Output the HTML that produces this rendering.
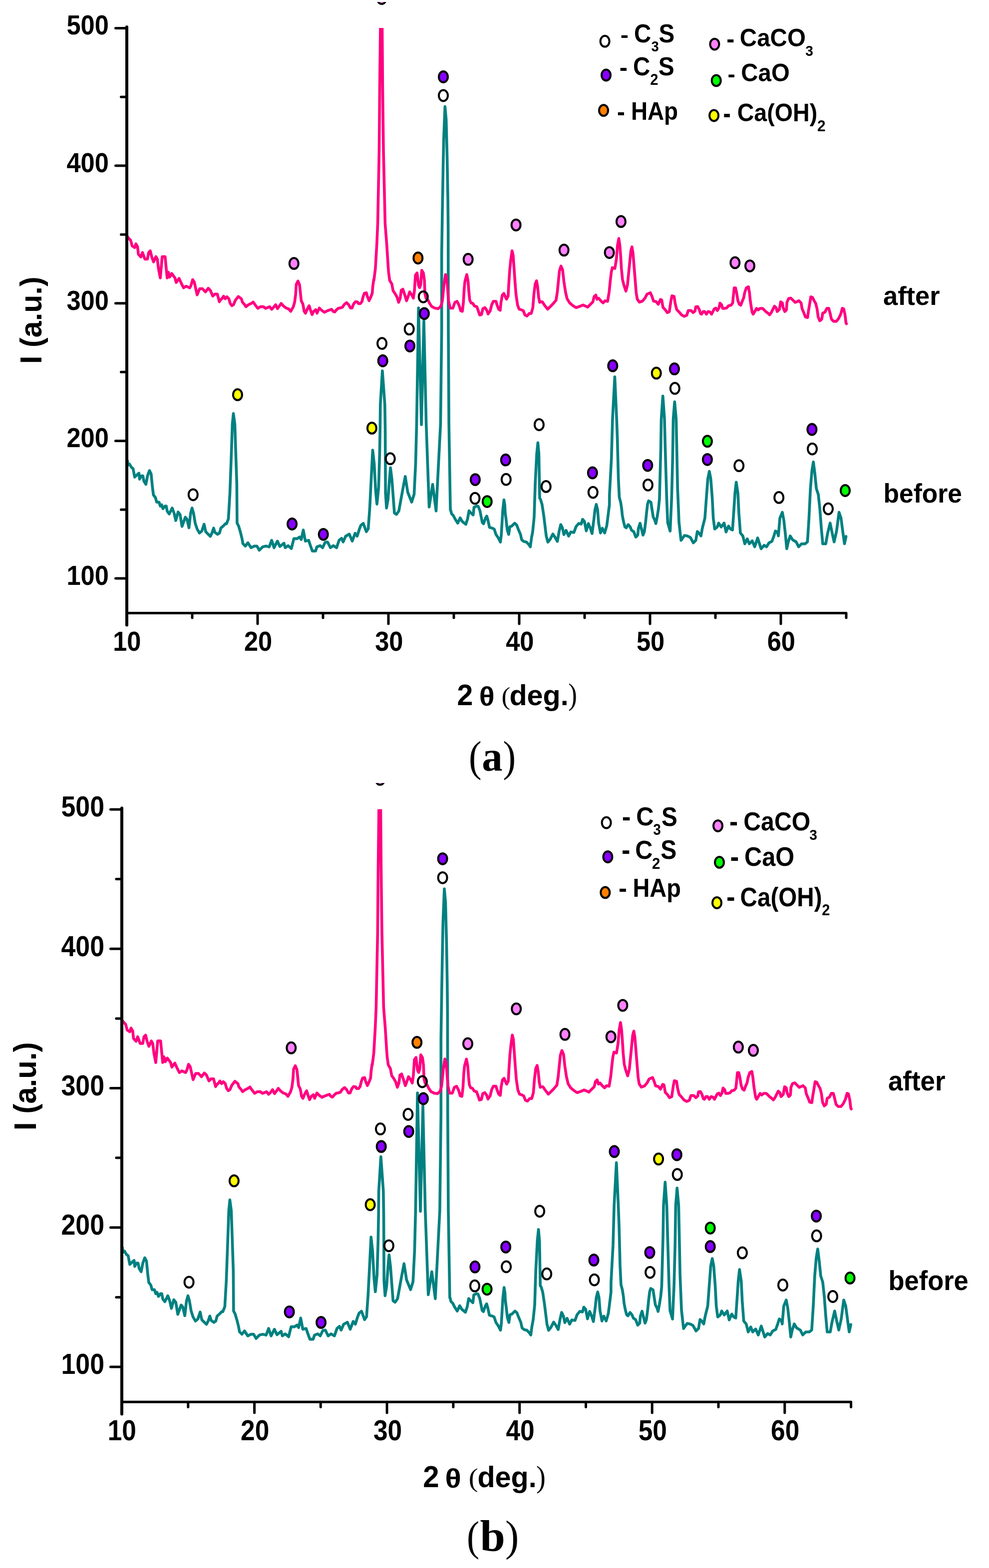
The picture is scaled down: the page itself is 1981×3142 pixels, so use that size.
<!DOCTYPE html>
<html><head><meta charset="utf-8"><title>XRD patterns</title>
<style>html,body{margin:0;padding:0;background:#fff;overflow:hidden}svg{display:block}</style></head>
<body>
<svg width="1981" height="3142" viewBox="0 0 1981 3142">
<defs><clipPath id="ca"><rect x="240" y="56" width="1480" height="1180"/></clipPath>
<clipPath id="cb"><rect x="230" y="1621.5" width="1500" height="1200"/></clipPath>
<clipPath id="cbm"><rect x="0" y="1569" width="1981" height="1600"/></clipPath>
<clipPath id="cam"><rect x="0" y="3.9" width="1981" height="1500"/></clipPath></defs>
<rect width="100%" height="100%" fill="#fff"/>
<g fill="none" stroke-width="5.6" stroke-linejoin="round" stroke-linecap="round">
<path clip-path="url(#ca)" d="M254.9,925.1 L255.3,923.2 L255.9,932.4 L259.2,929.8 L263.2,936.4 L266.5,939.0 L269.8,956.1 L273.7,952.2 L278.3,948.2 L279.6,960.1 L282.9,953.5 L286.2,953.5 L288.2,964.0 L292.2,970.6 L295.5,953.5 L299.4,942.9 L302.7,949.5 L305.3,975.9 L307.3,991.7 L311.3,997.0 L313.9,1006.2 L318.5,1006.2 L321.1,1014.1 L323.8,1011.5 L326.4,1019.4 L330.4,1014.1 L333.0,1014.1 L335.0,1024.6 L338.9,1029.9 L344.9,1018.0 L348.8,1028.6 L352.1,1043.1 L356.7,1025.9 L360.7,1031.2 L364.6,1054.9 L371.2,1036.5 L374.5,1040.4 L378.5,1057.6 L381.8,1028.6 L384.7,1018.0 L387.7,1028.6 L391.0,1048.3 L394.9,1060.2 L399.5,1068.1 L404.2,1064.2 L408.8,1050.3 L412.1,1065.5 L416.0,1069.4 L421.3,1074.7 L424.6,1068.1 L427.9,1058.2 L430.5,1066.8 L435.8,1070.7 L439.7,1068.1 L442.4,1058.2 L447.6,1053.6 L451.6,1049.3 L453.6,1049.6 L457.5,1039.7 L460.5,988.3 L463.4,909.3 L465.4,850.0 L467.5,828.5 L470.4,850.0 L472.3,909.3 L474.3,968.6 L474.9,1048.1 L478.2,1054.7 L481.5,1066.2 L484.8,1079.4 L486.5,1089.3 L491.4,1094.2 L496.4,1087.6 L502.9,1097.5 L509.5,1094.2 L514.5,1094.2 L519.4,1102.5 L526.0,1095.9 L532.6,1094.2 L539.2,1095.9 L544.1,1082.7 L549.0,1097.5 L555.6,1084.3 L560.6,1095.1 L568.8,1088.5 L571.3,1097.5 L577.0,1093.4 L583.6,1099.2 L588.6,1079.4 L595.2,1079.4 L600.1,1076.1 L603.4,1081.1 L607.5,1062.1 L611.6,1084.3 L618.2,1082.7 L621.5,1092.6 L625.6,1104.1 L632.2,1104.1 L634.7,1095.9 L641.3,1093.4 L646.2,1097.5 L651.2,1086.8 L656.1,1086.0 L661.9,1097.5 L667.6,1093.4 L674.2,1097.5 L679.2,1082.7 L684.1,1078.6 L687.4,1086.0 L692.3,1074.5 L699.7,1070.3 L705.5,1084.3 L711.3,1068.7 L715.4,1074.5 L719.5,1061.3 L722.8,1052.6 L727.7,1048.6 L733.7,1065.4 L737.6,1059.5 L740.6,1018.0 L743.6,958.7 L746.5,902.0 L749.5,929.1 L752.5,984.4 L755.0,1010.1 L758.4,976.5 L760.4,909.3 L761.3,860.0 L761.8,810.6 L765.9,743.0 L770.8,810.6 L771.6,860.0 L772.2,988.3 L774.2,1018.0 L777.2,1000.2 L780.1,960.7 L782.1,937.0 L785.0,960.7 L790.0,1027.9 L794.0,1030.8 L798.9,1023.9 L806.8,980.4 L811.7,954.7 L816.7,986.4 L824.6,1006.1 L829.5,990.3 L832.5,929.1 L834.5,850.0 L838.3,617.0 L844.1,851.0 L849.0,643.0 L853.7,850.0 L859.6,1016.0 L866.6,970.6 L873.5,1023.9 L882.4,850.0 L884.7,660.0 L884.7,508.9 L886.1,419.2 L887.7,329.5 L888.7,279.7 L891.3,213.5 L893.7,239.8 L895.7,319.5 L897.1,399.3 L897.7,459.0 L898.0,660.0 L899.2,850.0 L902.1,1022.0 L902.7,1022.3 L904.5,1029.4 L908.0,1032.9 L911.6,1040.1 L916.9,1048.4 L921.7,1037.7 L925.8,1044.8 L933.0,1050.7 L936.5,1040.1 L939.5,1023.5 L942.4,1027.0 L947.8,1031.8 L949.5,1016.3 L954.9,1014.0 L957.8,1014.6 L961.4,1023.5 L966.1,1047.2 L968.5,1049.5 L972.7,1037.7 L975.0,1034.1 L977.4,1042.4 L980.4,1056.7 L986.3,1058.4 L989.9,1060.2 L993.4,1070.9 L998.2,1078.0 L1002.3,1086.3 L1004.1,1072.1 L1007.1,1022.3 L1009.4,1001.5 L1011.2,1012.8 L1011.8,1025.8 L1013.6,1040.1 L1016.0,1061.4 L1018.9,1070.9 L1021.3,1055.5 L1024.8,1054.3 L1030.8,1048.4 L1034.9,1051.9 L1038.5,1061.4 L1042.6,1070.9 L1045.0,1081.6 L1049.2,1085.1 L1054.5,1086.3 L1059.2,1091.1 L1062.2,1095.8 L1064.6,1078.0 L1066.9,1066.1 L1069.9,1036.5 L1072.1,968.6 L1075.1,909.3 L1077.4,887.0 L1079.4,909.3 L1081.0,998.2 L1082.6,1000.5 L1085.8,1011.1 L1089.0,1032.2 L1091.6,1053.2 L1094.2,1074.3 L1097.4,1086.4 L1102.1,1080.6 L1107.4,1070.1 L1111.6,1076.4 L1116.4,1084.9 L1120.1,1063.8 L1123.2,1051.1 L1126.4,1057.5 L1129.5,1071.2 L1133.8,1062.7 L1139.0,1074.3 L1143.2,1065.9 L1149.6,1066.9 L1153.8,1055.3 L1159.1,1049.0 L1164.3,1050.1 L1167.0,1040.6 L1170.6,1044.8 L1174.3,1063.8 L1178.5,1049.0 L1182.2,1057.5 L1185.9,1069.1 L1189.6,1040.6 L1191.7,1021.6 L1194.4,1010.6 L1197.0,1021.6 L1199.1,1048.0 L1202.8,1068.0 L1206.5,1058.5 L1211.2,1068.0 L1215.4,1053.2 L1218.1,1032.2 L1220.7,1011.1 L1220.8,991.9 L1224.7,918.8 L1226.9,840.0 L1231.4,755.0 L1235.2,840.0 L1236.6,879.3 L1238.6,958.3 L1240.5,996.5 L1243.2,1006.4 L1245.2,1019.5 L1246.5,1032.7 L1249.1,1045.9 L1251.7,1055.8 L1254.4,1057.7 L1258.3,1051.1 L1262.3,1055.8 L1264.9,1062.3 L1269.5,1065.6 L1273.5,1076.2 L1277.4,1072.2 L1278.7,1059.1 L1282.0,1048.5 L1284.7,1059.1 L1288.0,1072.2 L1290.6,1065.6 L1293.2,1045.9 L1295.2,1026.1 L1297.2,1009.6 L1299.2,1003.7 L1303.8,1006.4 L1305.8,1019.5 L1308.4,1036.0 L1311.7,1042.6 L1313.7,1049.2 L1316.3,1036.0 L1318.9,1019.5 L1320.9,999.8 L1323.6,899.1 L1324.5,840.0 L1327.7,793.5 L1331.0,840.0 L1332.5,899.1 L1335.4,997.9 L1337.4,1047.3 L1342.3,1064.1 L1345.3,997.9 L1347.3,918.8 L1348.5,840.0 L1351.3,805.0 L1354.4,840.0 L1357.2,978.1 L1360.1,1047.3 L1364.1,1082.8 L1371.0,1073.0 L1376.9,1074.0 L1382.8,1076.9 L1388.8,1087.8 L1393.7,1082.8 L1396.7,1065.1 L1400.0,1068.0 L1404.0,1073.9 L1406.9,1058.1 L1411.9,1038.3 L1414.8,998.8 L1417.8,959.3 L1420.8,944.5 L1423.7,959.3 L1426.7,998.8 L1428.7,1038.3 L1431.6,1060.1 L1436.6,1056.1 L1439.5,1048.2 L1444.5,1056.1 L1450.4,1048.2 L1454.3,1066.0 L1459.3,1054.2 L1463.2,1060.1 L1467.2,1062.1 L1470.2,1018.6 L1472.1,988.9 L1474.7,966.2 L1478.1,988.9 L1480.0,1028.5 L1483.0,1068.0 L1487.9,1073.9 L1491.9,1089.7 L1496.8,1079.8 L1500.8,1089.7 L1506.7,1083.8 L1511.7,1095.7 L1517.6,1077.9 L1524.5,1099.6 L1530.4,1092.7 L1535.4,1095.7 L1540.3,1087.7 L1546.2,1084.8 L1550.2,1073.9 L1553.2,1064.0 L1557.1,1066.0 L1559.1,1073.9 L1562.1,1038.3 L1567.0,1026.5 L1570.0,1042.3 L1572.9,1068.0 L1575.9,1099.6 L1578.9,1085.8 L1582.8,1073.9 L1587.7,1081.8 L1594.7,1085.8 L1599.6,1095.7 L1605.5,1089.7 L1612.5,1089.7 L1617.4,1085.8 L1620.4,1038.3 L1623.3,979.1 L1626.3,943.5 L1629.2,925.7 L1632.2,949.4 L1635.2,979.1 L1639.1,990.9 L1642.1,1018.6 L1645.1,1058.1 L1648.0,1089.7 L1654.0,1089.7 L1657.9,1068.0 L1662.8,1048.2 L1666.8,1068.0 L1670.8,1085.8 L1675.7,1064.0 L1680.6,1026.5 L1684.6,1038.3 L1688.5,1068.0 L1691.5,1089.7 L1694.5,1075.9 L1694.6,1074.9" stroke="#008080"/>
<path clip-path="url(#ca)" d="M254.6,473.1 L257.4,477.2 L261.5,481.3 L264.8,492.8 L269.8,496.1 L272.2,488.7 L275.5,494.5 L277.2,509.3 L282.1,515.0 L285.4,506.0 L290.3,519.2 L295.3,519.2 L297.8,506.0 L301.0,502.7 L304.3,515.9 L307.6,524.9 L312.3,514.2 L315.1,519.2 L317.5,538.9 L321.1,557.0 L324.9,514.2 L330.7,514.2 L333.2,540.6 L334.8,557.0 L337.3,545.5 L339.8,555.4 L343.9,548.0 L350.5,557.0 L352.9,566.1 L358.7,557.9 L363.6,568.6 L367.8,576.8 L372.7,573.5 L380.1,576.8 L382.6,571.9 L385.9,560.3 L389.2,565.3 L394.9,590.8 L399.9,578.5 L405.6,578.5 L411.4,585.0 L417.2,577.6 L421.3,581.8 L426.2,593.3 L430.3,589.2 L435.3,589.2 L439.4,604.8 L440.0,602.7 L445.3,597.4 L447.9,593.5 L451.2,598.7 L454.5,594.8 L458.4,598.7 L461.1,608.0 L464.4,612.6 L467.7,610.6 L471.6,601.4 L477.5,594.1 L483.5,598.7 L485.5,605.3 L490.1,610.6 L492.7,614.6 L498.0,610.6 L503.2,608.0 L507.2,605.3 L511.8,611.9 L516.4,617.9 L521.7,614.6 L527.6,614.6 L532.2,617.9 L540.1,614.6 L544.1,619.8 L548.0,615.9 L552.0,610.6 L555.9,618.5 L563.2,608.0 L567.8,613.2 L573.1,617.2 L578.3,619.2 L582.3,623.8 L587.6,614.6 L590.2,605.3 L592.2,589.5 L593.5,569.8 L596.8,563.2 L600.1,571.1 L602.0,589.5 L603.4,602.7 L606.7,609.3 L609.3,623.8 L611.9,627.7 L615.2,619.8 L619.2,612.6 L621.8,621.1 L625.1,630.4 L628.4,623.8 L632.4,620.5 L635.0,627.7 L639.6,617.2 L644.8,622.3 L649.8,625.7 L654.7,623.2 L659.6,621.3 L664.1,619.8 L667.5,624.2 L670.5,625.2 L673.5,621.3 L677.4,617.8 L682.4,616.8 L686.3,615.3 L689.3,610.4 L694.2,606.4 L698.2,610.4 L702.1,617.3 L705.1,617.3 L708.1,609.4 L712.0,604.5 L716.0,605.0 L717.9,608.4 L721.9,608.4 L724.9,604.5 L727.3,594.6 L729.8,587.7 L733.8,586.7 L735.7,593.6 L739.2,602.5 L742.6,595.6 L745.6,587.7 L746.6,574.8 L748.6,560.0 L748.9,562.0 L751.9,538.3 L754.8,488.9 L756.6,448.0 L759.5,300.0 L760.5,181.0 L762.0,56.0 L762.5,30.0 L765.2,30.0 L765.5,56.0 L766.5,181.0 L768.0,300.0 L771.4,448.0 L774.6,488.9 L777.5,534.4 L778.4,545.8 L780.5,561.6 L784.8,569.0 L787.4,582.7 L791.1,588.0 L795.3,595.4 L798.5,605.9 L801.6,597.5 L803.7,581.6 L806.9,579.5 L810.1,589.0 L814.3,602.7 L817.4,594.3 L820.6,584.8 L824.8,591.1 L828.0,597.5 L830.1,582.7 L832.2,551.1 L835.4,546.9 L838.5,572.2 L840.6,576.4 L842.7,570.1 L844.8,541.6 L848.0,546.9 L850.1,561.6 L851.2,589.0 L853.3,597.5 L857.5,601.7 L860.6,608.0 L864.9,614.3 L871.2,617.5 L877.5,618.5 L882.8,614.3 L885.9,603.8 L889.1,572.2 L892.3,550.0 L894.9,556.4 L896.5,577.4 L898.6,603.8 L901.8,617.5 L907.0,617.5 L911.2,605.9 L915.5,603.8 L919.7,612.2 L922.8,622.8 L926.0,621.7 L926.1,623.9 L928.2,605.9 L929.7,579.6 L931.3,563.8 L935.0,550.1 L937.6,563.8 L939.2,584.9 L940.8,600.7 L943.4,607.0 L947.1,608.0 L950.3,613.3 L955.0,614.4 L957.7,621.8 L960.8,631.2 L964.5,630.2 L967.2,618.6 L971.4,616.5 L975.1,621.8 L977.7,629.1 L981.9,622.8 L985.1,610.2 L988.2,603.8 L993.5,603.8 L995.6,611.2 L998.8,619.6 L1001.9,621.8 L1003.5,605.9 L1006.2,591.2 L1009.3,588.0 L1012.5,595.4 L1014.6,599.6 L1017.8,593.3 L1018.8,574.3 L1020.9,542.7 L1023.0,521.6 L1025.7,502.5 L1027.8,511.1 L1029.3,532.2 L1031.5,563.8 L1033.6,590.1 L1036.7,611.2 L1039.9,619.6 L1044.1,620.7 L1048.3,622.8 L1051.5,631.2 L1055.7,633.3 L1060.0,628.1 L1064.1,628.1 L1067.3,616.5 L1069.4,590.1 L1072.0,569.0 L1074.7,562.6 L1076.8,574.3 L1078.9,595.4 L1081.0,605.9 L1082.6,604.9 L1086.3,604.9 L1090.5,611.2 L1096.9,619.6 L1102.1,614.4 L1107.4,609.1 L1113.7,601.7 L1116.4,584.9 L1118.5,563.8 L1120.6,542.7 L1123.7,533.1 L1126.9,540.6 L1129.5,563.8 L1132.7,584.9 L1135.9,598.6 L1141.1,607.0 L1147.5,612.3 L1153.8,616.5 L1160.1,614.4 L1167.5,611.2 L1172.8,613.3 L1177.0,615.4 L1181.2,611.2 L1187.5,604.9 L1190.1,594.3 L1193.3,591.2 L1195.9,599.6 L1199.1,597.5 L1204.4,603.8 L1208.1,607.0 L1211.8,602.8 L1217.0,603.8 L1220.2,584.9 L1222.3,563.8 L1224.4,545.9 L1226.5,536.4 L1231.6,538.0 L1234.7,519.0 L1236.9,491.6 L1239.5,477.8 L1241.6,491.6 L1243.2,512.7 L1244.8,539.0 L1246.9,560.1 L1249.5,570.7 L1253.7,583.3 L1256.9,570.7 L1259.5,544.3 L1261.6,523.2 L1263.7,502.2 L1265.8,494.7 L1267.9,507.4 L1270.1,533.8 L1272.2,560.1 L1274.3,586.5 L1276.4,599.1 L1280.6,605.5 L1286.9,603.3 L1292.2,597.0 L1295.9,589.6 L1302.7,586.5 L1305.9,593.9 L1309.0,603.3 L1314.3,604.4 L1318.5,609.7 L1322.8,600.2 L1325.4,601.2 L1328.0,616.0 L1332.2,620.2 L1336.5,626.5 L1340.7,624.4 L1343.8,603.3 L1345.9,592.8 L1350.2,593.9 L1352.3,607.6 L1355.4,620.2 L1359.6,624.4 L1364.9,630.8 L1370.2,633.9 L1375.5,631.8 L1378.6,622.3 L1384.2,622.2 L1388.4,626.4 L1392.1,623.2 L1393.7,614.8 L1397.4,614.3 L1400.6,620.1 L1403.2,628.5 L1405.3,629.6 L1408.5,624.3 L1411.6,624.3 L1414.8,629.6 L1418.5,624.3 L1422.2,625.3 L1425.3,629.6 L1428.5,623.2 L1430.6,619.0 L1433.8,617.4 L1436.9,622.2 L1440.1,616.9 L1442.2,607.4 L1445.3,610.6 L1447.5,618.0 L1451.7,618.0 L1455.9,616.9 L1459.1,612.7 L1464.3,611.6 L1467.5,607.4 L1469.1,591.6 L1470.6,576.9 L1473.3,576.8 L1475.4,586.4 L1478.0,602.2 L1480.7,609.5 L1483.8,611.6 L1486.5,604.3 L1489.6,596.9 L1491.7,586.4 L1494.9,576.8 L1499.1,574.6 L1501.2,586.4 L1502.8,602.2 L1504.4,612.7 L1506.5,625.3 L1508.6,629.6 L1511.8,624.3 L1515.4,618.0 L1518.6,621.1 L1522.3,618.0 L1527.6,618.0 L1531.8,622.2 L1535.0,625.3 L1538.3,627.6 L1541.5,630.9 L1544.8,626.5 L1548.0,620.0 L1551.3,613.5 L1554.6,616.7 L1556.7,624.3 L1561.1,620.0 L1563.8,604.8 L1567.1,607.0 L1568.7,616.7 L1572.0,624.3 L1575.2,621.1 L1576.3,605.9 L1579.6,598.3 L1583.9,597.2 L1588.3,601.5 L1592.6,605.9 L1595.9,604.8 L1600.2,602.6 L1604.6,607.0 L1606.7,618.9 L1610.0,626.5 L1613.3,635.2 L1617.6,636.3 L1619.2,624.3 L1622.0,608.0 L1624.1,594.8 L1627.4,595.9 L1630.7,602.6 L1633.9,608.0 L1636.6,618.9 L1638.8,635.2 L1642.1,642.8 L1645.9,639.6 L1648.0,627.6 L1652.4,625.4 L1656.2,617.8 L1660.0,617.8 L1662.7,627.6 L1665.4,639.6 L1669.8,643.9 L1675.2,643.9 L1679.6,638.5 L1683.9,629.8 L1687.2,617.8 L1689.9,618.9 L1692.6,630.9 L1694.6,647.2 L1695.5,648.9" stroke="#ff0080"/>
<path clip-path="url(#cb)" d="M244.9,2502.2 L245.3,2500.3 L245.9,2509.6 L249.3,2507.0 L253.3,2513.7 L256.7,2516.3 L260.0,2533.7 L264.0,2529.7 L268.6,2525.6 L269.9,2537.7 L273.3,2531.0 L276.6,2531.0 L278.7,2541.7 L282.7,2548.3 L286.1,2531.0 L290.0,2520.3 L293.4,2527.0 L296.0,2553.7 L298.0,2569.7 L302.1,2575.1 L304.7,2584.4 L309.4,2584.4 L312.0,2592.4 L314.7,2589.8 L317.4,2597.8 L321.4,2592.4 L324.1,2592.4 L326.1,2603.1 L330.1,2608.4 L336.1,2596.4 L340.1,2607.1 L343.4,2621.8 L348.1,2604.4 L352.2,2609.8 L356.1,2633.8 L362.8,2615.1 L366.1,2619.1 L370.2,2636.5 L373.5,2607.1 L376.5,2596.4 L379.5,2607.1 L382.9,2627.1 L386.8,2639.1 L391.5,2647.2 L396.2,2643.2 L400.9,2629.1 L404.2,2644.5 L408.2,2648.5 L413.6,2653.8 L416.9,2647.2 L420.3,2637.1 L422.9,2645.8 L428.3,2649.8 L432.2,2647.2 L435.0,2637.1 L440.2,2632.5 L444.3,2628.1 L446.3,2628.4 L450.3,2618.4 L453.3,2566.3 L456.2,2486.2 L458.3,2426.1 L460.4,2404.3 L463.3,2426.1 L465.3,2486.2 L467.3,2546.3 L467.9,2626.9 L471.2,2633.6 L474.6,2645.2 L477.9,2658.6 L479.7,2668.6 L484.6,2673.6 L489.7,2666.9 L496.3,2676.9 L503.0,2673.6 L508.0,2673.6 L513.0,2682.0 L519.7,2675.3 L526.4,2673.6 L533.1,2675.3 L538.0,2662.0 L543.0,2676.9 L549.7,2663.6 L554.8,2674.5 L563.1,2667.8 L565.6,2676.9 L571.4,2672.8 L578.1,2678.7 L583.1,2658.6 L589.8,2658.6 L594.8,2655.3 L598.1,2660.3 L602.3,2641.1 L606.5,2663.6 L613.1,2662.0 L616.5,2672.0 L620.7,2683.6 L627.3,2683.6 L629.9,2675.3 L636.6,2672.8 L641.5,2676.9 L646.6,2666.1 L651.6,2665.3 L657.4,2676.9 L663.2,2672.8 L669.9,2676.9 L675.0,2662.0 L679.9,2657.8 L683.3,2665.3 L688.3,2653.6 L695.8,2649.4 L701.6,2663.6 L707.5,2647.8 L711.7,2653.6 L715.8,2640.3 L719.2,2631.4 L724.1,2627.4 L730.2,2644.4 L734.2,2638.4 L737.2,2596.4 L740.3,2536.3 L743.2,2478.8 L746.2,2506.3 L749.3,2562.3 L751.8,2588.4 L755.3,2554.3 L757.3,2486.2 L758.2,2436.3 L758.7,2386.2 L762.9,2317.7 L767.8,2386.2 L768.6,2436.3 L769.2,2566.3 L771.3,2596.4 L774.3,2578.3 L777.2,2538.3 L779.3,2514.3 L782.2,2538.3 L787.3,2606.4 L791.3,2609.4 L796.3,2602.4 L804.3,2558.3 L809.3,2532.2 L814.3,2564.4 L822.4,2584.3 L827.3,2568.3 L830.4,2506.3 L832.4,2426.1 L836.2,2190.0 L842.1,2427.1 L847.1,2216.4 L851.8,2426.1 L857.8,2594.4 L864.9,2548.3 L871.9,2602.4 L880.9,2426.1 L883.3,2233.6 L883.3,2080.5 L884.7,1989.6 L886.3,1898.7 L887.3,1848.2 L890.0,1781.1 L892.4,1807.8 L894.4,1888.5 L895.8,1969.4 L896.4,2029.9 L896.8,2233.6 L898.0,2426.1 L900.9,2600.4 L901.5,2600.7 L903.3,2607.9 L906.9,2611.5 L910.5,2618.8 L915.9,2627.2 L920.8,2616.3 L924.9,2623.5 L932.2,2629.5 L935.8,2618.8 L938.8,2602.0 L941.8,2605.5 L947.2,2610.4 L949.0,2594.7 L954.4,2592.3 L957.4,2592.9 L961.0,2602.0 L965.8,2626.0 L968.2,2628.3 L972.5,2616.3 L974.8,2612.7 L977.2,2621.1 L980.3,2635.6 L986.3,2637.3 L989.9,2639.1 L993.4,2650.0 L998.3,2657.2 L1002.5,2665.6 L1004.3,2651.2 L1007.3,2600.7 L1009.7,2579.7 L1011.5,2591.1 L1012.1,2604.3 L1013.9,2618.8 L1016.4,2640.4 L1019.3,2650.0 L1021.7,2634.4 L1025.3,2633.2 L1031.4,2627.2 L1035.5,2630.7 L1039.2,2640.4 L1043.3,2650.0 L1045.7,2660.8 L1050.0,2664.4 L1055.4,2665.6 L1060.1,2670.5 L1063.2,2675.2 L1065.6,2657.2 L1067.9,2645.1 L1071.0,2615.1 L1073.2,2546.3 L1076.3,2486.2 L1078.6,2463.6 L1080.6,2486.2 L1082.2,2576.3 L1083.9,2578.6 L1087.1,2589.4 L1090.3,2610.8 L1093.0,2632.1 L1095.6,2653.4 L1098.9,2665.7 L1103.6,2659.8 L1109.0,2649.2 L1113.3,2655.6 L1118.1,2664.2 L1121.9,2642.8 L1125.0,2629.9 L1128.3,2636.4 L1131.4,2650.3 L1135.8,2641.7 L1141.0,2653.4 L1145.3,2644.9 L1151.8,2645.9 L1156.0,2634.2 L1161.4,2627.8 L1166.7,2628.9 L1169.4,2619.3 L1173.1,2623.5 L1176.8,2642.8 L1181.1,2627.8 L1184.8,2636.4 L1188.6,2648.2 L1192.3,2619.3 L1194.4,2600.0 L1197.2,2588.9 L1199.8,2600.0 L1201.9,2626.8 L1205.7,2647.1 L1209.4,2637.4 L1214.2,2647.1 L1218.5,2632.1 L1221.2,2610.8 L1223.8,2589.4 L1223.9,2569.9 L1227.9,2495.9 L1230.1,2416.0 L1234.7,2329.9 L1238.5,2416.0 L1240.0,2455.8 L1242.0,2535.9 L1243.9,2574.6 L1246.6,2584.6 L1248.7,2597.9 L1250.0,2611.3 L1252.6,2624.7 L1255.3,2634.7 L1258.0,2636.6 L1261.9,2629.9 L1266.0,2634.7 L1268.6,2641.3 L1273.3,2644.6 L1277.4,2655.4 L1281.3,2651.3 L1282.6,2638.0 L1286.0,2627.3 L1288.7,2638.0 L1292.1,2651.3 L1294.7,2644.6 L1297.3,2624.7 L1299.3,2604.6 L1301.4,2587.9 L1303.4,2581.9 L1308.1,2584.6 L1310.1,2597.9 L1312.7,2614.6 L1316.1,2621.3 L1318.1,2628.0 L1320.7,2614.6 L1323.4,2597.9 L1325.4,2577.9 L1328.1,2475.9 L1329.0,2416.0 L1332.3,2368.9 L1335.6,2416.0 L1337.2,2475.9 L1340.1,2576.0 L1342.1,2626.1 L1347.1,2643.1 L1350.1,2576.0 L1352.2,2495.9 L1353.4,2416.0 L1356.2,2380.5 L1359.4,2416.0 L1362.2,2555.9 L1365.1,2626.1 L1369.2,2662.1 L1376.2,2652.1 L1382.2,2653.1 L1388.1,2656.1 L1394.2,2667.1 L1399.2,2662.1 L1402.2,2644.1 L1405.6,2647.1 L1409.6,2653.0 L1412.6,2637.0 L1417.6,2617.0 L1420.6,2576.9 L1423.6,2536.9 L1426.7,2521.9 L1429.6,2536.9 L1432.6,2576.9 L1434.7,2617.0 L1437.6,2639.0 L1442.7,2635.0 L1445.6,2627.0 L1450.7,2635.0 L1456.7,2627.0 L1460.6,2645.0 L1465.7,2633.1 L1469.6,2639.0 L1473.7,2641.1 L1476.7,2597.0 L1478.7,2566.9 L1481.3,2543.9 L1484.7,2566.9 L1486.7,2607.0 L1489.7,2647.1 L1494.7,2653.0 L1498.7,2669.0 L1503.7,2659.0 L1507.7,2669.0 L1513.7,2663.1 L1518.8,2675.1 L1524.8,2657.1 L1531.8,2679.1 L1537.7,2672.1 L1542.8,2675.1 L1547.8,2667.0 L1553.8,2664.1 L1557.8,2653.0 L1560.9,2643.0 L1564.8,2645.0 L1566.8,2653.0 L1569.9,2617.0 L1574.8,2605.0 L1577.9,2621.0 L1580.8,2647.1 L1583.9,2679.1 L1586.9,2665.1 L1590.9,2653.0 L1595.8,2661.0 L1602.9,2665.1 L1607.9,2675.1 L1613.9,2669.0 L1621.0,2669.0 L1625.9,2665.1 L1629.0,2617.0 L1631.9,2557.0 L1634.9,2520.9 L1637.9,2502.8 L1640.9,2526.9 L1644.0,2557.0 L1647.9,2568.9 L1651.0,2597.0 L1654.0,2637.0 L1656.9,2669.0 L1663.0,2669.0 L1667.0,2647.1 L1671.9,2627.0 L1676.0,2647.1 L1680.1,2665.1 L1685.0,2643.0 L1690.0,2605.0 L1694.0,2617.0 L1698.0,2647.1 L1701.0,2669.0 L1704.1,2655.1 L1704.2,2654.0" stroke="#008080"/>
<path clip-path="url(#cb)" d="M244.6,2044.2 L247.4,2048.3 L251.6,2052.5 L254.9,2064.1 L260.0,2067.5 L262.4,2060.0 L265.8,2065.9 L267.5,2080.9 L272.5,2086.6 L275.8,2077.5 L280.8,2090.9 L285.9,2090.9 L288.4,2077.5 L291.6,2074.2 L295.0,2087.6 L298.3,2096.7 L303.1,2085.8 L305.9,2090.9 L308.4,2110.9 L312.0,2129.2 L315.9,2085.8 L321.7,2085.8 L324.3,2112.6 L325.9,2129.2 L328.4,2117.6 L331.0,2127.6 L335.1,2120.1 L341.8,2129.2 L344.2,2138.4 L350.1,2130.1 L355.1,2141.0 L359.3,2149.3 L364.3,2145.9 L371.8,2149.3 L374.3,2144.3 L377.7,2132.6 L381.0,2137.6 L386.8,2163.5 L391.9,2151.0 L397.7,2151.0 L403.5,2157.6 L409.4,2150.1 L413.6,2154.3 L418.5,2166.0 L422.7,2161.8 L427.8,2161.8 L431.9,2177.6 L432.5,2175.5 L437.9,2170.1 L440.5,2166.2 L443.9,2171.5 L447.2,2167.5 L451.2,2171.5 L453.9,2180.9 L457.3,2185.6 L460.6,2183.5 L464.6,2174.2 L470.5,2166.8 L476.6,2171.5 L478.6,2178.2 L483.3,2183.5 L485.9,2187.6 L491.3,2183.5 L496.6,2180.9 L500.6,2178.2 L505.3,2184.8 L510.0,2190.9 L515.3,2187.6 L521.3,2187.6 L526.0,2190.9 L534.0,2187.6 L538.0,2192.8 L542.0,2188.9 L546.0,2183.5 L550.0,2191.5 L557.4,2180.9 L562.1,2186.2 L567.4,2190.2 L572.7,2192.2 L576.8,2196.9 L582.1,2187.6 L584.8,2178.2 L586.8,2162.1 L588.1,2142.2 L591.5,2135.5 L594.8,2143.5 L596.7,2162.1 L598.1,2175.5 L601.5,2182.2 L604.1,2196.9 L606.8,2200.9 L610.1,2192.8 L614.2,2185.6 L616.8,2194.2 L620.1,2203.6 L623.5,2196.9 L627.5,2193.6 L630.2,2200.9 L634.8,2190.2 L640.1,2195.4 L645.2,2198.8 L650.1,2196.3 L655.1,2194.4 L659.7,2192.8 L663.1,2197.3 L666.2,2198.3 L669.2,2194.4 L673.2,2190.8 L678.2,2189.8 L682.2,2188.3 L685.2,2183.3 L690.2,2179.3 L694.2,2183.3 L698.2,2190.3 L701.2,2190.3 L704.3,2182.3 L708.2,2177.3 L712.3,2177.8 L714.2,2181.3 L718.3,2181.3 L721.3,2177.3 L723.7,2167.3 L726.3,2160.3 L730.3,2159.3 L732.2,2166.3 L735.8,2175.3 L739.2,2168.3 L742.3,2160.3 L743.3,2147.2 L745.3,2132.2 L745.6,2134.3 L748.7,2110.3 L751.6,2060.2 L753.4,2018.7 L756.4,1868.8 L757.4,1748.2 L758.9,1621.5 L759.4,1595.1 L762.1,1595.1 L762.5,1621.5 L763.5,1748.2 L765.0,1868.8 L768.4,2018.7 L771.7,2060.2 L774.6,2106.3 L775.5,2117.9 L777.7,2133.9 L782.0,2141.4 L784.6,2155.3 L788.4,2160.6 L792.7,2168.1 L795.9,2178.8 L799.0,2170.2 L801.2,2154.1 L804.4,2152.0 L807.7,2161.6 L811.9,2175.5 L815.1,2167.0 L818.3,2157.4 L822.6,2163.8 L825.8,2170.2 L827.9,2155.3 L830.1,2123.2 L833.3,2119.0 L836.4,2144.6 L838.6,2148.9 L840.7,2142.5 L842.8,2113.6 L846.1,2119.0 L848.2,2133.9 L849.3,2161.6 L851.4,2170.2 L855.7,2174.5 L858.8,2180.9 L863.2,2187.3 L869.6,2190.5 L876.0,2191.5 L881.3,2187.3 L884.5,2176.6 L887.7,2144.6 L891.0,2122.1 L893.6,2128.6 L895.2,2149.9 L897.4,2176.6 L900.6,2190.5 L905.9,2190.5 L910.1,2178.8 L914.5,2176.6 L918.7,2185.1 L921.9,2195.9 L925.1,2194.8 L925.2,2197.0 L927.4,2178.8 L928.9,2152.1 L930.5,2136.1 L934.3,2122.2 L936.9,2136.1 L938.5,2157.5 L940.1,2173.5 L942.8,2179.9 L946.5,2180.9 L949.8,2186.3 L954.5,2187.4 L957.3,2194.9 L960.4,2204.4 L964.2,2203.4 L966.9,2191.6 L971.1,2189.5 L974.9,2194.9 L977.5,2202.3 L981.8,2195.9 L985.0,2183.1 L988.2,2176.6 L993.5,2176.6 L995.7,2184.1 L998.9,2192.6 L1002.1,2194.9 L1003.7,2178.8 L1006.4,2163.9 L1009.6,2160.6 L1012.8,2168.1 L1014.9,2172.4 L1018.2,2166.0 L1019.2,2146.7 L1021.3,2114.7 L1023.5,2093.3 L1026.2,2074.0 L1028.3,2082.7 L1029.8,2104.1 L1032.1,2136.1 L1034.2,2162.8 L1037.3,2184.1 L1040.6,2192.6 L1044.8,2193.8 L1049.1,2195.9 L1052.3,2204.4 L1056.6,2206.5 L1061.0,2201.3 L1065.1,2201.3 L1068.4,2189.5 L1070.5,2162.8 L1073.1,2141.4 L1075.9,2134.9 L1078.0,2146.7 L1080.1,2168.1 L1082.2,2178.8 L1083.9,2177.7 L1087.6,2177.7 L1091.9,2184.1 L1098.4,2192.6 L1103.6,2187.4 L1109.0,2182.0 L1115.4,2174.5 L1118.1,2157.5 L1120.2,2136.1 L1122.4,2114.7 L1125.5,2105.0 L1128.8,2112.6 L1131.4,2136.1 L1134.6,2157.5 L1137.9,2171.4 L1143.2,2179.9 L1149.6,2185.2 L1156.0,2189.5 L1162.4,2187.4 L1169.9,2184.1 L1175.3,2186.3 L1179.5,2188.4 L1183.8,2184.1 L1190.2,2177.7 L1192.8,2167.0 L1196.1,2163.9 L1198.7,2172.4 L1201.9,2170.2 L1207.3,2176.6 L1211.1,2179.9 L1214.8,2175.6 L1220.1,2176.6 L1223.3,2157.5 L1225.5,2136.1 L1227.6,2118.0 L1229.7,2108.3 L1234.9,2110.0 L1238.0,2090.7 L1240.3,2062.9 L1242.9,2048.9 L1245.0,2062.9 L1246.6,2084.3 L1248.3,2111.0 L1250.4,2132.3 L1253.0,2143.1 L1257.3,2155.9 L1260.5,2143.1 L1263.2,2116.3 L1265.3,2095.0 L1267.4,2073.7 L1269.6,2066.1 L1271.7,2078.9 L1273.9,2105.7 L1276.0,2132.3 L1278.2,2159.1 L1280.3,2171.9 L1284.6,2178.4 L1290.9,2176.1 L1296.3,2169.7 L1300.1,2162.2 L1307.0,2159.1 L1310.2,2166.6 L1313.3,2176.1 L1318.7,2177.2 L1323.0,2182.6 L1327.3,2173.0 L1330.0,2174.0 L1332.6,2189.0 L1336.9,2193.3 L1341.2,2199.6 L1345.5,2197.5 L1348.6,2176.1 L1350.7,2165.5 L1355.1,2166.6 L1357.2,2180.5 L1360.4,2193.3 L1364.6,2197.5 L1370.0,2204.0 L1375.4,2207.1 L1380.7,2205.0 L1383.9,2195.4 L1389.6,2195.3 L1393.8,2199.5 L1397.6,2196.3 L1399.2,2187.8 L1402.9,2187.3 L1406.2,2193.2 L1408.8,2201.7 L1410.9,2202.8 L1414.2,2197.4 L1417.3,2197.4 L1420.6,2202.8 L1424.3,2197.4 L1428.1,2198.4 L1431.2,2202.8 L1434.5,2196.3 L1436.6,2192.0 L1439.8,2190.4 L1443.0,2195.3 L1446.2,2189.9 L1448.3,2180.3 L1451.5,2183.5 L1453.7,2191.0 L1458.0,2191.0 L1462.2,2189.9 L1465.5,2185.7 L1470.7,2184.5 L1474.0,2180.3 L1475.6,2164.3 L1477.1,2149.4 L1479.9,2149.3 L1482.0,2159.0 L1484.6,2175.0 L1487.4,2182.4 L1490.5,2184.5 L1493.2,2177.1 L1496.4,2169.6 L1498.5,2159.0 L1501.8,2149.3 L1506.0,2147.0 L1508.1,2159.0 L1509.8,2175.0 L1511.4,2185.7 L1513.5,2198.4 L1515.7,2202.8 L1518.9,2197.4 L1522.5,2191.0 L1525.8,2194.2 L1529.5,2191.0 L1534.9,2191.0 L1539.2,2195.3 L1542.4,2198.4 L1545.8,2200.8 L1549.0,2204.1 L1552.3,2199.6 L1555.6,2193.1 L1558.9,2186.5 L1562.3,2189.7 L1564.4,2197.4 L1568.9,2193.1 L1571.6,2177.6 L1574.9,2179.9 L1576.6,2189.7 L1579.9,2197.4 L1583.2,2194.2 L1584.3,2178.8 L1587.6,2171.1 L1592.0,2169.9 L1596.4,2174.3 L1600.8,2178.8 L1604.1,2177.6 L1608.5,2175.4 L1613.0,2179.9 L1615.1,2191.9 L1618.4,2199.6 L1621.8,2208.5 L1626.1,2209.6 L1627.8,2197.4 L1630.6,2180.9 L1632.7,2167.5 L1636.1,2168.6 L1639.4,2175.4 L1642.7,2180.9 L1645.4,2191.9 L1647.6,2208.5 L1651.0,2216.2 L1654.8,2212.9 L1656.9,2200.8 L1661.4,2198.5 L1665.3,2190.8 L1669.1,2190.8 L1671.8,2200.8 L1674.6,2212.9 L1679.0,2217.3 L1684.5,2217.3 L1689.0,2211.8 L1693.3,2203.0 L1696.7,2190.8 L1699.4,2191.9 L1702.2,2204.1 L1704.2,2220.6 L1705.1,2222.3" stroke="#ff0080"/>
</g>
<line x1="254.0" y1="54.0" x2="254.0" y2="1252.5" stroke="#000" stroke-width="6" stroke-linecap="round"/>
<line x1="254.0" y1="1228.6" x2="1695.0" y2="1228.6" stroke="#000" stroke-width="5" />
<line x1="231.5" y1="1159.0" x2="254.0" y2="1159.0" stroke="#000" stroke-width="5" stroke-linecap="round"/>
<line x1="242.5" y1="1021.2" x2="254.0" y2="1021.2" stroke="#000" stroke-width="5" stroke-linecap="round"/>
<line x1="231.5" y1="883.4" x2="254.0" y2="883.4" stroke="#000" stroke-width="5" stroke-linecap="round"/>
<line x1="242.5" y1="745.6" x2="254.0" y2="745.6" stroke="#000" stroke-width="5" stroke-linecap="round"/>
<line x1="231.5" y1="607.8" x2="254.0" y2="607.8" stroke="#000" stroke-width="5" stroke-linecap="round"/>
<line x1="242.5" y1="469.9" x2="254.0" y2="469.9" stroke="#000" stroke-width="5" stroke-linecap="round"/>
<line x1="231.5" y1="332.1" x2="254.0" y2="332.1" stroke="#000" stroke-width="5" stroke-linecap="round"/>
<line x1="242.5" y1="194.3" x2="254.0" y2="194.3" stroke="#000" stroke-width="5" stroke-linecap="round"/>
<line x1="231.5" y1="56.5" x2="254.0" y2="56.5" stroke="#000" stroke-width="5" stroke-linecap="round"/>
<line x1="254.0" y1="1228.6" x2="254.0" y2="1250.0" stroke="#000" stroke-width="5" stroke-linecap="round"/>
<line x1="385.0" y1="1228.6" x2="385.0" y2="1238.0" stroke="#000" stroke-width="5" stroke-linecap="round"/>
<line x1="516.0" y1="1228.6" x2="516.0" y2="1250.0" stroke="#000" stroke-width="5" stroke-linecap="round"/>
<line x1="647.0" y1="1228.6" x2="647.0" y2="1238.0" stroke="#000" stroke-width="5" stroke-linecap="round"/>
<line x1="778.0" y1="1228.6" x2="778.0" y2="1250.0" stroke="#000" stroke-width="5" stroke-linecap="round"/>
<line x1="909.0" y1="1228.6" x2="909.0" y2="1238.0" stroke="#000" stroke-width="5" stroke-linecap="round"/>
<line x1="1040.0" y1="1228.6" x2="1040.0" y2="1250.0" stroke="#000" stroke-width="5" stroke-linecap="round"/>
<line x1="1171.0" y1="1228.6" x2="1171.0" y2="1238.0" stroke="#000" stroke-width="5" stroke-linecap="round"/>
<line x1="1302.0" y1="1228.6" x2="1302.0" y2="1250.0" stroke="#000" stroke-width="5" stroke-linecap="round"/>
<line x1="1433.0" y1="1228.6" x2="1433.0" y2="1238.0" stroke="#000" stroke-width="5" stroke-linecap="round"/>
<line x1="1564.0" y1="1228.6" x2="1564.0" y2="1250.0" stroke="#000" stroke-width="5" stroke-linecap="round"/>
<line x1="1695.0" y1="1228.6" x2="1695.0" y2="1238.0" stroke="#000" stroke-width="5" stroke-linecap="round"/>
<line x1="244.0" y1="1619.3" x2="244.0" y2="2833.4" stroke="#000" stroke-width="6" stroke-linecap="round"/>
<line x1="244.0" y1="2809.2" x2="1704.6" y2="2809.2" stroke="#000" stroke-width="5" />
<line x1="221.5" y1="2739.0" x2="244.0" y2="2739.0" stroke="#000" stroke-width="5" stroke-linecap="round"/>
<line x1="232.9" y1="2599.4" x2="244.0" y2="2599.4" stroke="#000" stroke-width="5" stroke-linecap="round"/>
<line x1="221.5" y1="2459.8" x2="244.0" y2="2459.8" stroke="#000" stroke-width="5" stroke-linecap="round"/>
<line x1="232.9" y1="2320.1" x2="244.0" y2="2320.1" stroke="#000" stroke-width="5" stroke-linecap="round"/>
<line x1="221.5" y1="2180.5" x2="244.0" y2="2180.5" stroke="#000" stroke-width="5" stroke-linecap="round"/>
<line x1="232.9" y1="2040.9" x2="244.0" y2="2040.9" stroke="#000" stroke-width="5" stroke-linecap="round"/>
<line x1="221.5" y1="1901.2" x2="244.0" y2="1901.2" stroke="#000" stroke-width="5" stroke-linecap="round"/>
<line x1="232.9" y1="1761.6" x2="244.0" y2="1761.6" stroke="#000" stroke-width="5" stroke-linecap="round"/>
<line x1="221.5" y1="1622.0" x2="244.0" y2="1622.0" stroke="#000" stroke-width="5" stroke-linecap="round"/>
<line x1="244.0" y1="2809.2" x2="244.0" y2="2830.9" stroke="#000" stroke-width="5" stroke-linecap="round"/>
<line x1="376.8" y1="2809.2" x2="376.8" y2="2819.5" stroke="#000" stroke-width="5" stroke-linecap="round"/>
<line x1="509.6" y1="2809.2" x2="509.6" y2="2830.9" stroke="#000" stroke-width="5" stroke-linecap="round"/>
<line x1="642.3" y1="2809.2" x2="642.3" y2="2819.5" stroke="#000" stroke-width="5" stroke-linecap="round"/>
<line x1="775.1" y1="2809.2" x2="775.1" y2="2830.9" stroke="#000" stroke-width="5" stroke-linecap="round"/>
<line x1="907.9" y1="2809.2" x2="907.9" y2="2819.5" stroke="#000" stroke-width="5" stroke-linecap="round"/>
<line x1="1040.7" y1="2809.2" x2="1040.7" y2="2830.9" stroke="#000" stroke-width="5" stroke-linecap="round"/>
<line x1="1173.5" y1="2809.2" x2="1173.5" y2="2819.5" stroke="#000" stroke-width="5" stroke-linecap="round"/>
<line x1="1306.2" y1="2809.2" x2="1306.2" y2="2830.9" stroke="#000" stroke-width="5" stroke-linecap="round"/>
<line x1="1439.0" y1="2809.2" x2="1439.0" y2="2819.5" stroke="#000" stroke-width="5" stroke-linecap="round"/>
<line x1="1571.8" y1="2809.2" x2="1571.8" y2="2830.9" stroke="#000" stroke-width="5" stroke-linecap="round"/>
<line x1="1704.6" y1="2809.2" x2="1704.6" y2="2819.5" stroke="#000" stroke-width="5" stroke-linecap="round"/>
<g clip-path="url(#cam)">
<ellipse cx="588.8" cy="527.9" rx="9" ry="10.9" fill="#ff80ff" stroke="#000" stroke-width="4"/>
<ellipse cx="764.5" cy="-3.0" rx="9" ry="10.9" fill="#ff80ff" stroke="#000" stroke-width="4"/>
<ellipse cx="837.3" cy="517.0" rx="9" ry="10.9" fill="#ff8000" stroke="#000" stroke-width="4"/>
<ellipse cx="937.7" cy="519.7" rx="9" ry="10.9" fill="#ff80ff" stroke="#000" stroke-width="4"/>
<ellipse cx="1033.6" cy="450.8" rx="9" ry="10.9" fill="#ff80ff" stroke="#000" stroke-width="4"/>
<ellipse cx="847.8" cy="594.8" rx="9" ry="10.9" fill="none" stroke="#000" stroke-width="4"/>
<ellipse cx="849.9" cy="628.3" rx="9" ry="10.9" fill="#8800ff" stroke="#000" stroke-width="4"/>
<ellipse cx="1129.7" cy="501.2" rx="9" ry="10.9" fill="#ff80ff" stroke="#000" stroke-width="4"/>
<ellipse cx="1220.6" cy="506.1" rx="9" ry="10.9" fill="#ff80ff" stroke="#000" stroke-width="4"/>
<ellipse cx="1243.9" cy="443.9" rx="9" ry="10.9" fill="#ff80ff" stroke="#000" stroke-width="4"/>
<ellipse cx="1472.3" cy="526.4" rx="9" ry="10.9" fill="#ff80ff" stroke="#000" stroke-width="4"/>
<ellipse cx="1502.0" cy="532.8" rx="9" ry="10.9" fill="#ff80ff" stroke="#000" stroke-width="4"/>
<ellipse cx="386.8" cy="991.3" rx="9" ry="10.9" fill="none" stroke="#000" stroke-width="4"/>
<ellipse cx="475.9" cy="790.9" rx="9" ry="10.9" fill="#ffff00" stroke="#000" stroke-width="4"/>
<ellipse cx="585.1" cy="1050.0" rx="9" ry="10.9" fill="#8800ff" stroke="#000" stroke-width="4"/>
<ellipse cx="647.7" cy="1070.8" rx="9" ry="10.9" fill="#8800ff" stroke="#000" stroke-width="4"/>
<ellipse cx="744.9" cy="857.9" rx="9" ry="10.9" fill="#ffff00" stroke="#000" stroke-width="4"/>
<ellipse cx="781.7" cy="919.2" rx="9" ry="10.9" fill="none" stroke="#000" stroke-width="4"/>
<ellipse cx="765.1" cy="688.2" rx="9" ry="10.9" fill="none" stroke="#000" stroke-width="4"/>
<ellipse cx="766.7" cy="723.0" rx="9" ry="10.9" fill="#8800ff" stroke="#000" stroke-width="4"/>
<ellipse cx="819.7" cy="659.4" rx="9" ry="10.9" fill="none" stroke="#000" stroke-width="4"/>
<ellipse cx="821.0" cy="693.3" rx="9" ry="10.9" fill="#8800ff" stroke="#000" stroke-width="4"/>
<ellipse cx="888.0" cy="191.5" rx="9" ry="10.9" fill="none" stroke="#000" stroke-width="4"/>
<ellipse cx="888.0" cy="154.0" rx="9" ry="10.9" fill="#8800ff" stroke="#000" stroke-width="4"/>
<ellipse cx="951.9" cy="961.1" rx="9" ry="10.9" fill="#8800ff" stroke="#000" stroke-width="4"/>
<ellipse cx="951.5" cy="998.6" rx="9" ry="10.9" fill="none" stroke="#000" stroke-width="4"/>
<ellipse cx="975.8" cy="1005.1" rx="9" ry="10.9" fill="#00ff00" stroke="#000" stroke-width="4"/>
<ellipse cx="1012.8" cy="921.7" rx="9" ry="10.9" fill="#8800ff" stroke="#000" stroke-width="4"/>
<ellipse cx="1013.8" cy="960.7" rx="9" ry="10.9" fill="none" stroke="#000" stroke-width="4"/>
<ellipse cx="1093.8" cy="974.9" rx="9" ry="10.9" fill="none" stroke="#000" stroke-width="4"/>
<ellipse cx="1079.9" cy="851.0" rx="9" ry="10.9" fill="none" stroke="#000" stroke-width="4"/>
<ellipse cx="1186.8" cy="947.5" rx="9" ry="10.9" fill="#8800ff" stroke="#000" stroke-width="4"/>
<ellipse cx="1187.8" cy="986.6" rx="9" ry="10.9" fill="none" stroke="#000" stroke-width="4"/>
<ellipse cx="1297.3" cy="932.6" rx="9" ry="10.9" fill="#8800ff" stroke="#000" stroke-width="4"/>
<ellipse cx="1297.9" cy="971.8" rx="9" ry="10.9" fill="none" stroke="#000" stroke-width="4"/>
<ellipse cx="1416.9" cy="884.2" rx="9" ry="10.9" fill="#00ff00" stroke="#000" stroke-width="4"/>
<ellipse cx="1416.9" cy="920.8" rx="9" ry="10.9" fill="#8800ff" stroke="#000" stroke-width="4"/>
<ellipse cx="1480.2" cy="933.2" rx="9" ry="10.9" fill="none" stroke="#000" stroke-width="4"/>
<ellipse cx="1560.2" cy="996.9" rx="9" ry="10.9" fill="none" stroke="#000" stroke-width="4"/>
<ellipse cx="1626.4" cy="860.5" rx="9" ry="10.9" fill="#8800ff" stroke="#000" stroke-width="4"/>
<ellipse cx="1627.0" cy="899.6" rx="9" ry="10.9" fill="none" stroke="#000" stroke-width="4"/>
<ellipse cx="1659.0" cy="1019.6" rx="9" ry="10.9" fill="none" stroke="#000" stroke-width="4"/>
<ellipse cx="1693.0" cy="983.0" rx="9" ry="10.9" fill="#00ff00" stroke="#000" stroke-width="4"/>
<ellipse cx="1227.3" cy="732.9" rx="9" ry="10.9" fill="#8800ff" stroke="#000" stroke-width="4"/>
<ellipse cx="1314.7" cy="747.7" rx="9" ry="10.9" fill="#ffff00" stroke="#000" stroke-width="4"/>
<ellipse cx="1350.9" cy="739.2" rx="9" ry="10.9" fill="#8800ff" stroke="#000" stroke-width="4"/>
<ellipse cx="1351.8" cy="778.2" rx="9" ry="10.9" fill="none" stroke="#000" stroke-width="4"/>
</g><g clip-path="url(#cbm)">
<ellipse cx="583.3" cy="2099.7" rx="9" ry="10.9" fill="#ff80ff" stroke="#000" stroke-width="4"/>
<ellipse cx="761.4" cy="1561.7" rx="9" ry="10.9" fill="#ff80ff" stroke="#000" stroke-width="4"/>
<ellipse cx="835.2" cy="2088.7" rx="9" ry="10.9" fill="#ff8000" stroke="#000" stroke-width="4"/>
<ellipse cx="937.0" cy="2091.4" rx="9" ry="10.9" fill="#ff80ff" stroke="#000" stroke-width="4"/>
<ellipse cx="1034.2" cy="2021.6" rx="9" ry="10.9" fill="#ff80ff" stroke="#000" stroke-width="4"/>
<ellipse cx="845.9" cy="2167.5" rx="9" ry="10.9" fill="none" stroke="#000" stroke-width="4"/>
<ellipse cx="848.0" cy="2201.5" rx="9" ry="10.9" fill="#8800ff" stroke="#000" stroke-width="4"/>
<ellipse cx="1131.6" cy="2072.7" rx="9" ry="10.9" fill="#ff80ff" stroke="#000" stroke-width="4"/>
<ellipse cx="1223.7" cy="2077.6" rx="9" ry="10.9" fill="#ff80ff" stroke="#000" stroke-width="4"/>
<ellipse cx="1247.4" cy="2014.6" rx="9" ry="10.9" fill="#ff80ff" stroke="#000" stroke-width="4"/>
<ellipse cx="1478.9" cy="2098.2" rx="9" ry="10.9" fill="#ff80ff" stroke="#000" stroke-width="4"/>
<ellipse cx="1509.0" cy="2104.7" rx="9" ry="10.9" fill="#ff80ff" stroke="#000" stroke-width="4"/>
<ellipse cx="378.6" cy="2569.3" rx="9" ry="10.9" fill="none" stroke="#000" stroke-width="4"/>
<ellipse cx="468.9" cy="2366.2" rx="9" ry="10.9" fill="#ffff00" stroke="#000" stroke-width="4"/>
<ellipse cx="579.6" cy="2628.8" rx="9" ry="10.9" fill="#8800ff" stroke="#000" stroke-width="4"/>
<ellipse cx="643.1" cy="2649.9" rx="9" ry="10.9" fill="#8800ff" stroke="#000" stroke-width="4"/>
<ellipse cx="741.6" cy="2414.0" rx="9" ry="10.9" fill="#ffff00" stroke="#000" stroke-width="4"/>
<ellipse cx="778.9" cy="2496.3" rx="9" ry="10.9" fill="none" stroke="#000" stroke-width="4"/>
<ellipse cx="762.0" cy="2262.2" rx="9" ry="10.9" fill="none" stroke="#000" stroke-width="4"/>
<ellipse cx="763.7" cy="2297.4" rx="9" ry="10.9" fill="#8800ff" stroke="#000" stroke-width="4"/>
<ellipse cx="817.4" cy="2233.0" rx="9" ry="10.9" fill="none" stroke="#000" stroke-width="4"/>
<ellipse cx="818.7" cy="2267.3" rx="9" ry="10.9" fill="#8800ff" stroke="#000" stroke-width="4"/>
<ellipse cx="886.6" cy="1758.8" rx="9" ry="10.9" fill="none" stroke="#000" stroke-width="4"/>
<ellipse cx="886.6" cy="1720.8" rx="9" ry="10.9" fill="#8800ff" stroke="#000" stroke-width="4"/>
<ellipse cx="951.4" cy="2538.7" rx="9" ry="10.9" fill="#8800ff" stroke="#000" stroke-width="4"/>
<ellipse cx="951.0" cy="2576.7" rx="9" ry="10.9" fill="none" stroke="#000" stroke-width="4"/>
<ellipse cx="975.6" cy="2583.3" rx="9" ry="10.9" fill="#00ff00" stroke="#000" stroke-width="4"/>
<ellipse cx="1013.1" cy="2498.8" rx="9" ry="10.9" fill="#8800ff" stroke="#000" stroke-width="4"/>
<ellipse cx="1014.1" cy="2538.3" rx="9" ry="10.9" fill="none" stroke="#000" stroke-width="4"/>
<ellipse cx="1095.2" cy="2552.7" rx="9" ry="10.9" fill="none" stroke="#000" stroke-width="4"/>
<ellipse cx="1081.1" cy="2427.1" rx="9" ry="10.9" fill="none" stroke="#000" stroke-width="4"/>
<ellipse cx="1189.5" cy="2524.9" rx="9" ry="10.9" fill="#8800ff" stroke="#000" stroke-width="4"/>
<ellipse cx="1190.5" cy="2564.6" rx="9" ry="10.9" fill="none" stroke="#000" stroke-width="4"/>
<ellipse cx="1301.5" cy="2509.8" rx="9" ry="10.9" fill="#8800ff" stroke="#000" stroke-width="4"/>
<ellipse cx="1302.1" cy="2549.6" rx="9" ry="10.9" fill="none" stroke="#000" stroke-width="4"/>
<ellipse cx="1422.7" cy="2460.8" rx="9" ry="10.9" fill="#00ff00" stroke="#000" stroke-width="4"/>
<ellipse cx="1422.7" cy="2497.9" rx="9" ry="10.9" fill="#8800ff" stroke="#000" stroke-width="4"/>
<ellipse cx="1486.9" cy="2510.4" rx="9" ry="10.9" fill="none" stroke="#000" stroke-width="4"/>
<ellipse cx="1568.0" cy="2575.0" rx="9" ry="10.9" fill="none" stroke="#000" stroke-width="4"/>
<ellipse cx="1635.1" cy="2436.8" rx="9" ry="10.9" fill="#8800ff" stroke="#000" stroke-width="4"/>
<ellipse cx="1635.7" cy="2476.4" rx="9" ry="10.9" fill="none" stroke="#000" stroke-width="4"/>
<ellipse cx="1668.1" cy="2598.0" rx="9" ry="10.9" fill="none" stroke="#000" stroke-width="4"/>
<ellipse cx="1702.6" cy="2560.9" rx="9" ry="10.9" fill="#00ff00" stroke="#000" stroke-width="4"/>
<ellipse cx="1230.5" cy="2307.5" rx="9" ry="10.9" fill="#8800ff" stroke="#000" stroke-width="4"/>
<ellipse cx="1319.1" cy="2322.5" rx="9" ry="10.9" fill="#ffff00" stroke="#000" stroke-width="4"/>
<ellipse cx="1355.8" cy="2313.8" rx="9" ry="10.9" fill="#8800ff" stroke="#000" stroke-width="4"/>
<ellipse cx="1356.7" cy="2353.4" rx="9" ry="10.9" fill="none" stroke="#000" stroke-width="4"/>
</g><g>
<ellipse cx="1211.6" cy="82.7" rx="9" ry="10.9" fill="none" stroke="#000" stroke-width="4"/>
<ellipse cx="1214.0" cy="150.5" rx="9" ry="10.9" fill="#8800ff" stroke="#000" stroke-width="4"/>
<ellipse cx="1209.0" cy="221.2" rx="9" ry="10.9" fill="#ff8000" stroke="#000" stroke-width="4"/>
<ellipse cx="1431.4" cy="88.6" rx="9" ry="10.9" fill="#ff80ff" stroke="#000" stroke-width="4"/>
<ellipse cx="1434.7" cy="161.4" rx="9" ry="10.9" fill="#00ff00" stroke="#000" stroke-width="4"/>
<ellipse cx="1430.1" cy="231.5" rx="9" ry="10.9" fill="#ffff00" stroke="#000" stroke-width="4"/>
<ellipse cx="1214.6" cy="1648.5" rx="9" ry="10.9" fill="none" stroke="#000" stroke-width="4"/>
<ellipse cx="1217.4" cy="1717.0" rx="9" ry="10.9" fill="#8800ff" stroke="#000" stroke-width="4"/>
<ellipse cx="1212.3" cy="1788.4" rx="9" ry="10.9" fill="#ff8000" stroke="#000" stroke-width="4"/>
<ellipse cx="1438.0" cy="1654.8" rx="9" ry="10.9" fill="#ff80ff" stroke="#000" stroke-width="4"/>
<ellipse cx="1441.0" cy="1727.9" rx="9" ry="10.9" fill="#00ff00" stroke="#000" stroke-width="4"/>
<ellipse cx="1436.0" cy="1809.0" rx="9" ry="10.9" fill="#ffff00" stroke="#000" stroke-width="4"/>
</g>
<g fill="#000"><text transform="translate(133.38,69.35) scale(0.9216,1)" font-family="Liberation Sans" font-weight="bold" font-size="54.93">500</text>
<text transform="translate(133.38,344.98) scale(0.9216,1)" font-family="Liberation Sans" font-weight="bold" font-size="54.93">400</text>
<text transform="translate(133.38,620.60) scale(0.9216,1)" font-family="Liberation Sans" font-weight="bold" font-size="54.93">300</text>
<text transform="translate(133.38,896.23) scale(0.9216,1)" font-family="Liberation Sans" font-weight="bold" font-size="54.93">200</text>
<text transform="translate(133.38,1171.85) scale(0.9216,1)" font-family="Liberation Sans" font-weight="bold" font-size="54.93">100</text>
<text transform="translate(122.44,1636.42) scale(0.8961,1)" font-family="Liberation Sans" font-weight="bold" font-size="57.89">500</text>
<text transform="translate(122.44,1915.67) scale(0.8961,1)" font-family="Liberation Sans" font-weight="bold" font-size="57.89">400</text>
<text transform="translate(122.44,2194.92) scale(0.8961,1)" font-family="Liberation Sans" font-weight="bold" font-size="57.89">300</text>
<text transform="translate(122.44,2474.17) scale(0.8961,1)" font-family="Liberation Sans" font-weight="bold" font-size="57.89">200</text>
<text transform="translate(122.44,2753.42) scale(0.8961,1)" font-family="Liberation Sans" font-weight="bold" font-size="57.89">100</text>
<text transform="translate(226.21,1304.35) scale(0.9211,1)" font-family="Liberation Sans" font-weight="bold" font-size="54.93">10</text>
<text transform="translate(488.97,1304.35) scale(0.9211,1)" font-family="Liberation Sans" font-weight="bold" font-size="54.93">20</text>
<text transform="translate(751.23,1304.35) scale(0.9211,1)" font-family="Liberation Sans" font-weight="bold" font-size="54.93">30</text>
<text transform="translate(1013.23,1304.35) scale(0.9211,1)" font-family="Liberation Sans" font-weight="bold" font-size="54.93">40</text>
<text transform="translate(1274.97,1304.35) scale(0.9211,1)" font-family="Liberation Sans" font-weight="bold" font-size="54.93">50</text>
<text transform="translate(1536.72,1304.35) scale(0.9211,1)" font-family="Liberation Sans" font-weight="bold" font-size="54.93">60</text>
<text transform="translate(215.77,2886.42) scale(0.8899,1)" font-family="Liberation Sans" font-weight="bold" font-size="57.75">10</text>
<text transform="translate(482.10,2886.42) scale(0.8899,1)" font-family="Liberation Sans" font-weight="bold" font-size="57.75">20</text>
<text transform="translate(747.91,2886.42) scale(0.8899,1)" font-family="Liberation Sans" font-weight="bold" font-size="57.75">30</text>
<text transform="translate(1013.47,2886.42) scale(0.8899,1)" font-family="Liberation Sans" font-weight="bold" font-size="57.75">40</text>
<text transform="translate(1278.78,2886.42) scale(0.8899,1)" font-family="Liberation Sans" font-weight="bold" font-size="57.75">50</text>
<text transform="translate(1544.08,2886.42) scale(0.8899,1)" font-family="Liberation Sans" font-weight="bold" font-size="57.75">60</text>
<text transform="translate(1769.03,611.08) scale(1.0099,1)" font-family="Liberation Sans" font-weight="bold" font-size="51.89">after</text>
<text transform="translate(1769.49,1007.37) scale(0.9733,1)" font-family="Liberation Sans" font-weight="bold" font-size="52.97">before</text>
<text transform="translate(1778.91,2184.54) scale(0.9520,1)" font-family="Liberation Sans" font-weight="bold" font-size="55.54">after</text>
<text transform="translate(1779.43,2584.65) scale(0.9517,1)" font-family="Liberation Sans" font-weight="bold" font-size="55.14">before</text>
<text transform="translate(1242.85,84.60) scale(1.0844,1)" font-family="Liberation Sans" font-weight="bold" font-size="45.00">-</text>
<text transform="translate(1269.90,84.59) scale(0.9324,1)" font-family="Liberation Sans" font-weight="bold" font-size="50.99">C</text>
<text transform="translate(1304.45,103.10) scale(0.9133,1)" font-family="Liberation Sans" font-weight="bold" font-size="30.00">3</text>
<text transform="translate(1319.58,85.18) scale(0.9164,1)" font-family="Liberation Sans" font-weight="bold" font-size="51.83">S</text>
<text transform="translate(1240.85,152.00) scale(0.9760,1)" font-family="Liberation Sans" font-weight="bold" font-size="50.00">-</text>
<text transform="translate(1268.10,150.99) scale(0.9324,1)" font-family="Liberation Sans" font-weight="bold" font-size="50.99">C</text>
<text transform="translate(1302.32,169.80) scale(0.9328,1)" font-family="Liberation Sans" font-weight="bold" font-size="31.29">2</text>
<text transform="translate(1318.77,151.48) scale(0.9254,1)" font-family="Liberation Sans" font-weight="bold" font-size="51.69">S</text>
<text transform="translate(1236.10,241.00) scale(0.9520,1)" font-family="Liberation Sans" font-weight="bold" font-size="50.00">-</text>
<text transform="translate(1263.89,239.80) scale(0.9034,1)" font-family="Liberation Sans" font-weight="bold" font-size="50.72">HAp</text>
<text transform="translate(1455.18,95.10) scale(0.9600,1)" font-family="Liberation Sans" font-weight="bold" font-size="50.00">-</text>
<text transform="translate(1481.80,93.19) scale(0.9379,1)" font-family="Liberation Sans" font-weight="bold" font-size="50.70">CaCO</text>
<text transform="translate(1613.24,112.20) scale(0.9356,1)" font-family="Liberation Sans" font-weight="bold" font-size="30.14">3</text>
<text transform="translate(1457.46,163.67) scale(1.0036,1)" font-family="Liberation Sans" font-weight="bold" font-size="45.83">-</text>
<text transform="translate(1484.30,163.39) scale(0.9351,1)" font-family="Liberation Sans" font-weight="bold" font-size="50.70">CaO</text>
<text transform="translate(1448.48,246.50) scale(0.7930,1)" font-family="Liberation Sans" font-weight="bold" font-size="57.50">-</text>
<text transform="translate(1476.63,243.10) scale(0.9407,1)" font-family="Liberation Sans" font-weight="bold" font-size="49.58">Ca(OH)</text>
<text transform="translate(1636.91,263.30) scale(0.9701,1)" font-family="Liberation Sans" font-weight="bold" font-size="30.71">2</text>
<text transform="translate(1245.67,1654.93) scale(0.9822,1)" font-family="Liberation Sans" font-weight="bold" font-size="54.17">-</text>
<text transform="translate(1274.14,1653.58) scale(0.9337,1)" font-family="Liberation Sans" font-weight="bold" font-size="52.39">C</text>
<text transform="translate(1308.34,1672.88) scale(0.8836,1)" font-family="Liberation Sans" font-weight="bold" font-size="31.69">3</text>
<text transform="translate(1324.97,1654.56) scale(0.8860,1)" font-family="Liberation Sans" font-weight="bold" font-size="53.80">S</text>
<text transform="translate(1244.90,1722.90) scale(0.9113,1)" font-family="Liberation Sans" font-weight="bold" font-size="57.50">-</text>
<text transform="translate(1272.15,1720.68) scale(0.9333,1)" font-family="Liberation Sans" font-weight="bold" font-size="52.25">C</text>
<text transform="translate(1306.12,1741.20) scale(0.9225,1)" font-family="Liberation Sans" font-weight="bold" font-size="31.86">2</text>
<text transform="translate(1323.16,1721.47) scale(0.8992,1)" font-family="Liberation Sans" font-weight="bold" font-size="53.38">S</text>
<text transform="translate(1239.07,1797.43) scale(0.9832,1)" font-family="Liberation Sans" font-weight="bold" font-size="51.67">-</text>
<text transform="translate(1267.42,1797.10) scale(0.8916,1)" font-family="Liberation Sans" font-weight="bold" font-size="52.61">HAp</text>
<text transform="translate(1460.95,1666.40) scale(0.8904,1)" font-family="Liberation Sans" font-weight="bold" font-size="57.50">-</text>
<text transform="translate(1489.27,1663.97) scale(0.9154,1)" font-family="Liberation Sans" font-weight="bold" font-size="52.68">CaCO</text>
<text transform="translate(1621.34,1682.50) scale(0.9356,1)" font-family="Liberation Sans" font-weight="bold" font-size="30.14">3</text>
<text transform="translate(1462.57,1736.80) scale(0.8867,1)" font-family="Liberation Sans" font-weight="bold" font-size="60.00">-</text>
<text transform="translate(1490.95,1735.37) scale(0.9177,1)" font-family="Liberation Sans" font-weight="bold" font-size="53.10">CaO</text>
<text transform="translate(1454.89,1817.43) scale(0.9318,1)" font-family="Liberation Sans" font-weight="bold" font-size="56.67">-</text>
<text transform="translate(1482.49,1815.87) scale(0.8974,1)" font-family="Liberation Sans" font-weight="bold" font-size="53.10">Ca(OH)</text>
<text transform="translate(1646.23,1834.40) scale(0.9479,1)" font-family="Liberation Sans" font-weight="bold" font-size="30.57">2</text>
<text transform="translate(915.49,1413.10) scale(0.9547,1)" font-family="Liberation Sans" font-weight="bold" font-size="59.86">2</text>
<text transform="translate(959.71,1414.17) scale(1.0711,1)" font-family="Liberation Sans" font-weight="bold" font-size="53.38">θ</text>
<text transform="translate(1004.38,1412.17) scale(1.0295,1)" font-family="Liberation Serif" font-weight="normal" font-size="51.56">(</text>
<text transform="translate(1020.40,1413.10) scale(0.9883,1)" font-family="Liberation Sans" font-weight="bold" font-size="58.22">deg.</text>
<text transform="translate(1138.31,1412.31) scale(0.8781,1)" font-family="Liberation Serif" font-weight="normal" font-size="60.44">)</text>
<text transform="translate(847.16,2980.20) scale(0.9381,1)" font-family="Liberation Sans" font-weight="bold" font-size="62.00">2</text>
<text transform="translate(891.61,2981.26) scale(1.0977,1)" font-family="Liberation Sans" font-weight="bold" font-size="54.46">θ</text>
<text transform="translate(938.64,2978.66) scale(1.0850,1)" font-family="Liberation Serif" font-weight="normal" font-size="52.11">(</text>
<text transform="translate(956.40,2980.20) scale(0.9678,1)" font-family="Liberation Sans" font-weight="bold" font-size="59.45">deg.</text>
<text transform="translate(1073.89,2979.50) scale(0.9198,1)" font-family="Liberation Serif" font-weight="normal" font-size="61.89">)</text>
<text transform="translate(938.92,1544.62) scale(0.8887,1)" font-family="Liberation Serif" font-weight="normal" font-size="86.56">(</text>
<text transform="translate(965.32,1543.56) scale(0.9846,1)" font-family="Liberation Serif" font-weight="bold" font-size="83.96">a</text>
<text transform="translate(1007.59,1544.62) scale(0.8887,1)" font-family="Liberation Serif" font-weight="normal" font-size="86.56">)</text>
<text transform="translate(934.88,3107.31) scale(0.8800,1)" font-family="Liberation Serif" font-weight="normal" font-size="85.67">(</text>
<text transform="translate(961.39,3107.80) scale(1.0081,1)" font-family="Liberation Serif" font-weight="bold" font-size="89.86">b</text>
<text transform="translate(1012.04,3107.31) scale(0.9563,1)" font-family="Liberation Serif" font-weight="normal" font-size="85.67">)</text>
<text transform="translate(83.00,725.00) rotate(-90) scale(0.9758,1)" x="-4.26" y="0" font-family="Liberation Sans" font-weight="bold" font-size="60.87">I (a.u.)</text>
<text transform="translate(72.00,2261.00) rotate(-90) scale(0.9617,1)" x="-4.37" y="0" font-family="Liberation Sans" font-weight="bold" font-size="62.46">I (a.u.)</text></g>
</svg>
</body></html>
